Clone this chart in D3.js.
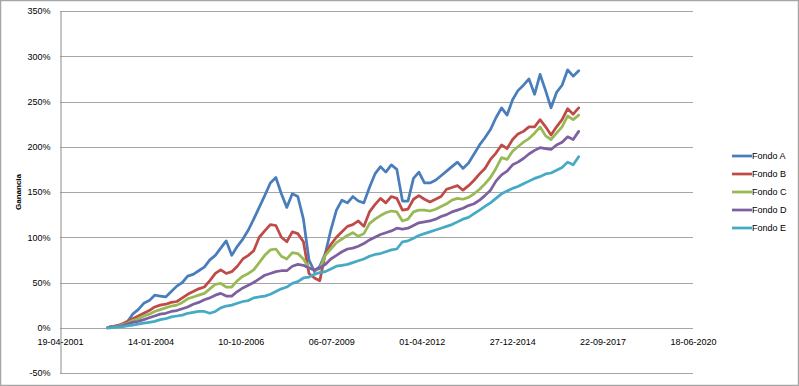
<!DOCTYPE html>
<html>
<head>
<meta charset="utf-8">
<script src="https://cdn.jsdelivr.net/npm/d3@7"></script>
<style>
	body { margin: 0; background: #fff; }
	text { font-family: "Liberation Sans", Arial, sans-serif; fill: #000; }
</style>
</head>
<body>
<div id="figure"></div>
<script>
var w = 799;
var h = 386;

// x axis tick labels (Excel date axis, step 1000 days)
var xTickLabels = ["19-04-2001", "14-01-2004", "10-10-2006", "06-07-2009", "01-04-2012", "27-12-2014", "22-09-2017", "18-06-2020"];
var yTicks = [-50, 0, 50, 100, 150, 200, 250, 300, 350];
var seriesNames = ["Fondo A", "Fondo B", "Fondo C", "Fondo D", "Fondo E"];
var colors = ["#4a7ebb", "#be4b48", "#98b954", "#7d60a0", "#46aac5"];

var dates = ["2002-09-27", "2002-11-01",
	"2003-01-01", "2003-03-01", "2003-05-01", "2003-07-01", "2003-09-01", "2003-11-01",
	"2004-01-01", "2004-03-01", "2004-05-01", "2004-07-01", "2004-09-01", "2004-11-01",
	"2005-01-01", "2005-03-01", "2005-05-01", "2005-07-01", "2005-09-01", "2005-11-01",
	"2006-01-01", "2006-03-01", "2006-05-01", "2006-07-01", "2006-09-01", "2006-11-01",
	"2007-01-01", "2007-03-01", "2007-05-01", "2007-07-01", "2007-09-01", "2007-11-01",
	"2008-01-01", "2008-03-01", "2008-05-01", "2008-07-01", "2008-09-01", "2008-11-01",
	"2009-01-01", "2009-03-01", "2009-05-01", "2009-07-01", "2009-09-01", "2009-11-01",
	"2010-01-01", "2010-03-01", "2010-05-01", "2010-07-01", "2010-09-01", "2010-11-01",
	"2011-01-01", "2011-03-01", "2011-05-01", "2011-07-01", "2011-09-01", "2011-11-01",
	"2012-01-01", "2012-03-01", "2012-05-01", "2012-07-01", "2012-09-01", "2012-11-01",
	"2013-01-01", "2013-03-01", "2013-05-01", "2013-07-01", "2013-09-01", "2013-11-01",
	"2014-01-01", "2014-03-01", "2014-05-01", "2014-07-01", "2014-09-01", "2014-11-01",
	"2015-01-01", "2015-03-01", "2015-05-01", "2015-07-01", "2015-09-01", "2015-11-01",
	"2016-01-01", "2016-03-01", "2016-05-01", "2016-07-01", "2016-09-01", "2016-11-01",
	"2017-01-01"];

// ganancia acumulada, %
var fondoA = [0, 1, 2, 3, 6, 15, 20, 27, 30, 36,
	35, 34, 40, 46, 50, 57, 59, 63, 67, 75,
	80, 88, 96, 80, 90, 98, 108, 120, 133, 146,
	160, 166, 148, 133, 148, 145, 120, 75, 62, 68,
	82, 108, 130, 141, 138, 145, 140, 138, 155, 170,
	178, 172, 180, 175, 140, 140, 165, 172, 160, 160,
	163, 168, 173, 178, 183, 176, 182, 192, 202, 210,
	219, 232, 243, 235, 252, 262, 268, 275, 258, 280,
	262, 243, 260, 268, 285, 278, 284];
var fondoB = [0, 1, 2, 4, 7, 10, 13, 16, 19, 23,
	25, 26, 28, 29, 33, 37, 40, 43, 45, 52,
	60, 64, 60, 62, 68, 76, 80, 85, 100, 107,
	114, 113, 100, 95, 106, 104, 95, 60, 55, 52,
	82, 92, 100, 106, 112, 114, 118, 112, 128, 136,
	143, 138, 145, 143, 130, 131, 142, 146, 142, 139,
	142, 145, 153, 155, 157, 152, 157, 163, 170, 176,
	186, 193, 202, 198, 208, 214, 217, 222, 222, 230,
	222, 213, 222, 230, 242, 236, 243];
var fondoC = [0, 1, 1, 3, 5, 8, 10, 13, 15, 18,
	20, 22, 24, 25, 28, 32, 34, 36, 38, 43,
	48, 49, 45, 45, 52, 57, 60, 64, 72, 80,
	86, 87, 79, 76, 83, 82, 76, 66, 64, 65,
	80, 87, 94, 98, 102, 105, 101, 104, 115, 120,
	124, 127, 129, 128, 118, 120, 128, 130, 130, 129,
	131, 134, 137, 141, 143, 142, 144, 148, 153, 159,
	166, 176, 188, 186, 195, 200, 205, 209, 215, 222,
	212, 208, 215, 222, 234, 230, 235];
var fondoD = [0, 1, 1, 2, 4, 6, 7, 9, 11, 13,
	15, 16, 18, 19, 21, 23, 26, 28, 31, 33,
	36, 38, 35, 35, 40, 44, 47, 50, 54, 58,
	60, 62, 63, 63, 68, 70, 69, 66, 64, 66,
	70, 76, 80, 84, 87, 88, 90, 93, 97, 100,
	103, 105, 107, 110, 109, 110, 113, 116, 117, 118,
	120, 123, 125, 128, 130, 132, 135, 137, 141, 146,
	152, 162, 169, 173, 180, 183, 187, 192, 196, 199,
	198, 197, 202, 205, 211, 208, 217];
var fondoE = [0, 0, 1, 1, 2, 3, 4, 5, 6, 7,
	9, 10, 12, 13, 14, 16, 17, 18, 18, 16,
	18, 22, 24, 25, 27, 29, 30, 33, 34, 35,
	37, 40, 43, 45, 49, 51, 55, 56, 59, 61,
	62, 65, 68, 69, 70, 72, 74, 76, 79, 81,
	82, 84, 86, 87, 95, 96, 99, 102, 104, 106,
	108, 110, 112, 114, 117, 120, 122, 126, 130, 134,
	138, 143, 148, 151, 154, 156, 159, 162, 165, 167,
	170, 171, 174, 177, 183, 180, 189];

var allSeries = [fondoA, fondoB, fondoC, fondoD, fondoE];

var plot = { left: 60, right: 693, top: 11, bottom: 373 };

var parseTick = d3.timeParse("%d-%m-%Y");
var parseDate = d3.timeParse("%Y-%m-%d");
var tickDates = xTickLabels.map(parseTick);
var fmtTick = d3.timeFormat("%d-%m-%Y");

var svg = d3.select('#figure')
	.append('svg')
	.attr('width', w)
	.attr('height', h);

// chart area border
svg.append('rect')
	.attr('x', 0.5)
	.attr('y', 0.5)
	.attr('width', w - 1)
	.attr('height', h - 1)
	.attr('fill', '#fff')
	.attr('stroke', '#a6a6a6')
	.attr('stroke-width', 1.5);

var xScale = d3.scaleTime()
	.domain([tickDates[0], tickDates[tickDates.length - 1]])
	.range([plot.left, plot.right]);

var yScale = d3.scaleLinear()
	.domain([-50, 350])
	.range([plot.bottom, plot.top]);

//Gridlines
svg.append('g')
	.classed('gridlines', true)
	.selectAll('line')
	.data(yTicks)
	.enter()
	.append('line')
	.attr('x1', plot.left)
	.attr('x2', plot.right)
	.attr('y1', function(d){ return Math.round(yScale(d)) + 0.5; })
	.attr('y2', function(d){ return Math.round(yScale(d)) + 0.5; })
	.attr('stroke', '#a6a6a6')
	.attr('stroke-width', 1);

//Y axis
var yAxis = d3.axisLeft(yScale)
	.tickValues(yTicks)
	.tickSize(0)
	.tickPadding(10)
	.tickFormat(function(d){ return d + '%'; });

var yG = svg.append('g')
	.attr('transform', 'translate(' + (plot.left + 0.5) + ',0)')
	.call(yAxis);
yG.select('.domain').attr('stroke', '#8c8c8c');
yG.selectAll('text')
	.style('font-family', '"Liberation Sans", Arial, sans-serif')
	.attr('font-size', 9)
	.attr('fill', '#000');

//X axis (crosses at 0%)
var xAxis = d3.axisBottom(xScale)
	.tickValues(tickDates)
	.tickSize(0)
	.tickPadding(10)
	.tickFormat(fmtTick);

var xG = svg.append('g')
	.attr('transform', 'translate(0,' + (Math.round(yScale(0)) + 0.5) + ')')
	.call(xAxis);
xG.select('.domain').remove();
xG.selectAll('text')
	.style('font-family', '"Liberation Sans", Arial, sans-serif')
	.attr('font-size', 9)
	.attr('fill', '#000');

//Y label
svg.append('text')
	.attr('transform', 'translate(21,' + ((plot.top + plot.bottom) / 2) + ') rotate(-90)')
	.attr('text-anchor', 'middle')
	.attr('font-size', 8)
	.attr('font-weight', 'bold')
	.text('Ganancia');

//Lines
var line = d3.line()
	.x(function(d, i){ return xScale(parseDate(dates[i])); })
	.y(function(d){ return yScale(d); });

svg.append('g')
	.classed('lines', true)
	.selectAll('path')
	.data(allSeries)
	.enter()
	.append('path')
	.attr('d', line)
	.attr('fill', 'none')
	.attr('stroke', function(d, i){ return colors[i]; })
	.attr('stroke-width', 2.75)
	.attr('stroke-linejoin', 'round')
	.attr('stroke-linecap', 'round');

//Legend
var legend = svg.append('g')
	.classed('legend', true)
	.selectAll('g')
	.data(seriesNames)
	.enter()
	.append('g')
	.attr('transform', function(d, i){ return 'translate(732,' + (156 + i * 18) + ')'; });

legend.append('line')
	.attr('x1', 0)
	.attr('x2', 20)
	.attr('y1', 0)
	.attr('y2', 0)
	.attr('stroke', function(d, i){ return colors[i]; })
	.attr('stroke-width', 2.75);

legend.append('text')
	.attr('x', 20)
	.attr('y', 3)
	.attr('font-size', 9)
	.text(function(d){ return d; });
</script>
</body>
</html>
